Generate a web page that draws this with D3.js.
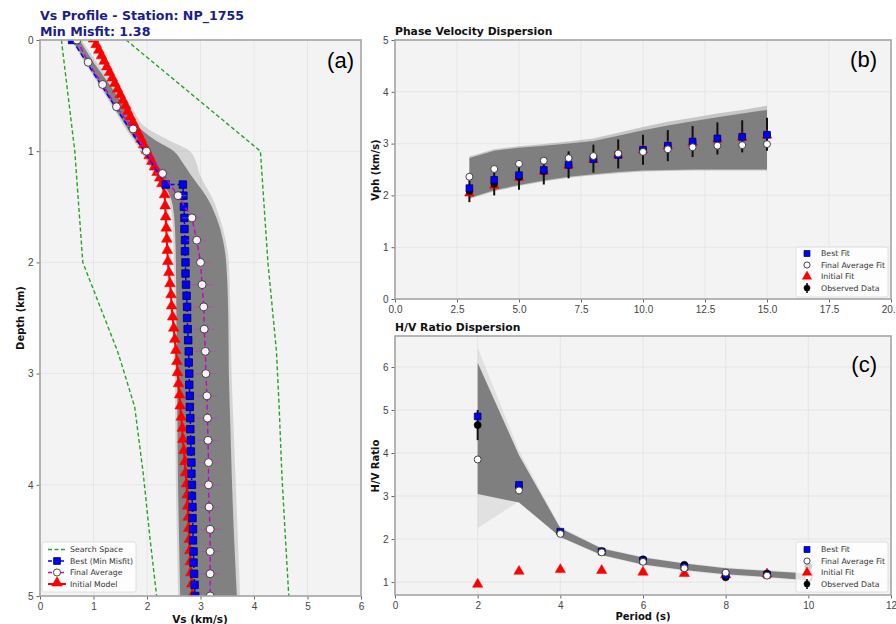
<!DOCTYPE html>
<html>
<head>
<meta charset="utf-8">
<script src="https://cdn.jsdelivr.net/npm/d3@7"></script>
<style>
body { margin: 0; background: #fff; }
svg { font-family: "DejaVu Sans", sans-serif; }
.tick text { fill: #444; font-size: 10px; }
.tick line { stroke: #666; }
</style>
</head>
<body>
<svg id="chart" width="896" height="624"></svg>
<script>
// ---- panel (a) : Vs profile ----
var searchDepth = [0, 1, 2, 2.8, 3, 3.3, 3.9, 4.5, 5];
var searchMin = [0.40, 0.65, 0.80, 1.45, 1.58, 1.77, 1.93, 2.06, 2.18];
var searchMax = [1.61, 4.12, 4.26, 4.42, 4.44, 4.47, 4.52, 4.59, 4.65];

var ensDepth = [0, 0.2, 0.4, 0.6, 0.8, 0.9, 1.0, 1.1, 1.2, 1.3, 1.4, 1.6, 1.8, 2.0, 2.5, 3.0, 3.5, 4.0, 4.5, 5.0];
var ensLow = [0.60, 0.86, 1.12, 1.38, 1.64, 1.78, 1.93, 2.04, 2.17, 2.30, 2.43, 2.51, 2.53, 2.54, 2.55, 2.56, 2.57, 2.58, 2.60, 2.62];
var ensHigh = [0.74, 1.00, 1.30, 1.58, 1.88, 2.15, 2.50, 2.66, 2.80, 2.95, 3.10, 3.30, 3.42, 3.48, 3.52, 3.53, 3.56, 3.59, 3.63, 3.68];
var ensOuterLow = [0.58, 0.83, 1.09, 1.35, 1.60, 1.74, 1.88, 2.00, 2.12, 2.26, 2.38, 2.47, 2.49, 2.50, 2.51, 2.52, 2.53, 2.54, 2.56, 2.58];
var ensOuterHigh = [0.78, 1.06, 1.38, 1.70, 2.02, 2.40, 2.80, 2.92, 2.98, 3.08, 3.20, 3.36, 3.47, 3.53, 3.56, 3.58, 3.62, 3.66, 3.70, 3.74];

var bestDepth = [0, 1.3, 1.3, 1.4, 1.5, 1.6, 1.7, 1.8, 1.9, 2.0, 2.1, 2.2, 2.3, 2.4, 2.5, 2.6, 2.7, 2.8, 2.9, 3.0,
    3.1, 3.2, 3.3, 3.4, 3.5, 3.6, 3.7, 3.8, 3.9, 4.0, 4.1, 4.2, 4.3, 4.4, 4.5, 4.6, 4.7, 4.8, 4.9, 5.0];
var bestVs = [0.60, 2.35, 2.67, 2.68, 2.69, 2.70, 2.70, 2.71, 2.71, 2.72, 2.72, 2.73, 2.74, 2.75, 2.75, 2.76, 2.77, 2.78, 2.78, 2.79,
    2.79, 2.80, 2.80, 2.81, 2.81, 2.82, 2.82, 2.83, 2.83, 2.84, 2.84, 2.85, 2.85, 2.86, 2.86, 2.87, 2.87, 2.88, 2.89, 2.90];

var avgDepth = [0, 0.2, 0.4, 0.6, 0.8, 1.0, 1.2, 1.4, 1.6, 1.8, 2.0, 2.2, 2.4, 2.6, 2.8, 3.0, 3.2, 3.4, 3.6, 3.8, 4.0, 4.2, 4.4, 4.6, 4.8, 5.0];
var avgVs = [0.69, 0.90, 1.17, 1.43, 1.74, 1.99, 2.29, 2.58, 2.84, 2.93, 3.00, 3.03, 3.06, 3.07, 3.09, 3.10, 3.12, 3.13, 3.14, 3.15, 3.15, 3.16, 3.18, 3.18, 3.18, 3.18];
var avgStd = [0.03, 0.05, 0.06, 0.08, 0.10, 0.12, 0.14, 0.16, 0.18, 0.19, 0.20, 0.20, 0.20, 0.20, 0.20, 0.20, 0.20, 0.20, 0.20, 0.20, 0.20, 0.20, 0.20, 0.20, 0.20, 0.20];

var initDepth = [0, 0.05, 0.1, 0.15, 0.2, 0.25, 0.3, 0.35, 0.4, 0.45, 0.5, 0.55, 0.6, 0.65, 0.7, 0.75, 0.8, 0.85, 0.9, 0.95,
    1.0, 1.05, 1.1, 1.15, 1.2, 1.25, 1.3, 1.4, 1.5, 1.6, 1.7, 1.8, 1.9, 2.0, 2.1, 2.2, 2.3, 2.4, 2.5, 2.6, 2.7, 2.8, 2.9, 3.0,
    3.1, 3.2, 3.3, 3.4, 3.5, 3.6, 3.7, 3.8, 3.9, 4.0, 4.1, 4.2, 4.3, 4.4, 4.5, 4.6, 4.7, 4.8, 4.9, 5.0];
var initVs = [1.00, 1.05, 1.10, 1.15, 1.20, 1.25, 1.30, 1.35, 1.40, 1.45, 1.50, 1.55, 1.60, 1.64, 1.69, 1.74, 1.79, 1.84, 1.89, 1.94,
    1.99, 2.04, 2.09, 2.14, 2.19, 2.24, 2.28, 2.33, 2.34, 2.35, 2.36, 2.37, 2.38, 2.39, 2.41, 2.43, 2.45, 2.46, 2.48, 2.50, 2.52, 2.54, 2.56, 2.57,
    2.59, 2.61, 2.62, 2.64, 2.66, 2.67, 2.69, 2.71, 2.72, 2.74, 2.75, 2.76, 2.77, 2.78, 2.79, 2.80, 2.81, 2.82, 2.84, 2.85];

// ---- panel (b) : phase velocity ----
var periodsB = [3, 4, 5, 6, 7, 8, 9, 10, 11, 12, 13, 14, 15];
var obsB = [2.08, 2.22, 2.35, 2.46, 2.59, 2.71, 2.80, 2.88, 2.96, 3.04, 3.10, 3.14, 3.18];
var obsErrB = [0.21, 0.22, 0.24, 0.25, 0.26, 0.27, 0.28, 0.29, 0.30, 0.30, 0.31, 0.31, 0.32];
var bestB = [2.14, 2.30, 2.39, 2.49, 2.59, 2.70, 2.78, 2.88, 2.96, 3.04, 3.10, 3.13, 3.17];
var avgB = [2.36, 2.51, 2.61, 2.67, 2.72, 2.76, 2.81, 2.84, 2.89, 2.93, 2.96, 2.97, 2.99];
var initB = [2.04, 2.19, 2.34, 2.46, 2.58, 2.69, 2.78, 2.87, 2.95, 3.02, 3.08, 3.12, 3.16];
var ensLowB = [1.95, 2.10, 2.20, 2.29, 2.36, 2.41, 2.45, 2.48, 2.49, 2.50, 2.50, 2.50, 2.50];
var ensHighB = [2.72, 2.86, 2.92, 2.96, 3.00, 3.05, 3.15, 3.26, 3.35, 3.43, 3.51, 3.58, 3.65];
var ensOuterLowB = [1.93, 2.08, 2.18, 2.27, 2.34, 2.39, 2.43, 2.46, 2.47, 2.48, 2.48, 2.48, 2.48];
var ensOuterHighB = [2.75, 2.89, 2.95, 2.99, 3.04, 3.10, 3.21, 3.32, 3.42, 3.50, 3.58, 3.65, 3.73];

// ---- panel (c) : H/V ratio ----
var periodsC = [2, 3, 4, 5, 6, 7, 8, 9, 10];
var obsC = [4.65, 3.22, 2.14, 1.72, 1.53, 1.40, 1.11, 1.20, 1.36];
var obsErrC = [0.35, 0.06, 0.04, 0.03, 0.03, 0.03, 0.03, 0.03, 0.03];
var bestC = [4.85, 3.26, 2.17, 1.71, 1.50, 1.35, 1.17, 1.17, 1.12];
var avgC = [3.85, 3.13, 2.12, 1.69, 1.47, 1.32, 1.22, 1.15, 1.12];
var initC = [0.95, 1.25, 1.29, 1.27, 1.23, 1.20, 1.17, 1.19, 1.22];
var ensLowC = [3.05, 2.85, 2.05, 1.63, 1.41, 1.28, 1.18, 1.12, 1.04];
var ensHighC = [6.10, 3.95, 2.25, 1.78, 1.57, 1.43, 1.32, 1.26, 1.20];
var ensOuterLowC = [2.25, 2.88, 2.03, 1.61, 1.39, 1.26, 1.16, 1.10, 1.02];
var ensOuterHighC = [6.45, 4.05, 2.28, 1.80, 1.59, 1.45, 1.34, 1.28, 1.22];

var xTicksA = [0, 1, 2, 3, 4, 5, 6];
var yTicksA = [0, 1, 2, 3, 4, 5];
var xTicksB = [0, 2.5, 5, 7.5, 10, 12.5, 15, 17.5, 20];
var yTicksB = [0, 1, 2, 3, 4, 5];
var xTicksC = [0, 2, 4, 6, 8, 10, 12];
var yTicksC = [1, 2, 3, 4, 5, 6];

var legendA = ["Search Space", "Best (Min Misfit)", "Final Average", "Initial Model"];
var legendBC = ["Best Fit", "Final Average Fit", "Initial Fit", "Observed Data"];

var svg = d3.select("#chart");

var xA = d3.scaleLinear().domain([0, 6]).range([40, 361]);
var yA = d3.scaleLinear().domain([0, 5]).range([40, 596]);
var xB = d3.scaleLinear().domain([0, 20]).range([395, 891]);
var yB = d3.scaleLinear().domain([0, 5]).range([299, 40]);
var xC = d3.scaleLinear().domain([0, 12]).range([395, 891]);
var yC = d3.scaleLinear().domain([0.7, 6.72]).range([595, 336]);

function drawBase(id, x, y, xTicks, yTicks, xFmt) {
    var x0 = x.range()[0], x1 = x.range()[1];
    var y0 = Math.min(y.range()[0], y.range()[1]), y1 = Math.max(y.range()[0], y.range()[1]);
    svg.append("clipPath").attr("id", id)
        .append("rect").attr("x", x0).attr("y", y0).attr("width", x1 - x0).attr("height", y1 - y0);
    svg.append("rect")
        .attr("x", x0).attr("y", y0).attr("width", x1 - x0).attr("height", y1 - y0)
        .style("fill", "#f3f3f3");
    var grid = svg.append("g");
    grid.selectAll(".gx").data(xTicks).enter().append("line")
        .attr("x1", function(d) { return x(d); }).attr("x2", function(d) { return x(d); })
        .attr("y1", y0).attr("y2", y1)
        .style("stroke", "#e2e2e2").style("stroke-width", 0.8);
    grid.selectAll(".gy").data(yTicks).enter().append("line")
        .attr("y1", function(d) { return y(d); }).attr("y2", function(d) { return y(d); })
        .attr("x1", x0).attr("x2", x1)
        .style("stroke", "#e2e2e2").style("stroke-width", 0.8);
    svg.append("g")
        .attr("transform", "translate(0," + y1 + ")")
        .call(d3.axisBottom(x).tickValues(xTicks).tickFormat(xFmt).tickSize(3.5).tickPadding(3))
        .call(function(g) { g.select(".domain").remove(); });
    svg.append("g")
        .attr("transform", "translate(" + x0 + ",0)")
        .call(d3.axisLeft(y).tickValues(yTicks).tickFormat(d3.format("d")).tickSize(3.5).tickPadding(3))
        .call(function(g) { g.select(".domain").remove(); });
    return svg.append("g").attr("clip-path", "url(#" + id + ")");
}

function drawBorder(x, y) {
    var x0 = x.range()[0], x1 = x.range()[1];
    var y0 = Math.min(y.range()[0], y.range()[1]), y1 = Math.max(y.range()[0], y.range()[1]);
    svg.append("rect")
        .attr("x", x0).attr("y", y0).attr("width", x1 - x0).attr("height", y1 - y0)
        .style("fill", "none").style("stroke", "#a5a5a5").style("stroke-width", 1.6);
}

function marker(g, type, size, cx, cy, fill, stroke, sw) {
    g.append("path")
        .attr("d", d3.symbol().type(type).size(size)())
        .attr("transform", "translate(" + cx + "," + cy + ")")
        .style("fill", fill).style("stroke", stroke).style("stroke-width", sw);
}

// ================= panel (a) =================
var pa = drawBase("clipA", xA, yA, xTicksA, yTicksA, d3.format("d"));

var areaA = function(lo, hi) {
    return d3.area()
        .y(function(d, i) { return yA(ensDepth[i]); })
        .x0(function(d, i) { return xA(lo[i]); })
        .x1(function(d, i) { return xA(hi[i]); })
        .curve(d3.curveMonotoneY);
};
pa.append("path").datum(ensDepth).attr("d", areaA(ensOuterLow, ensOuterHigh))
    .style("fill", "#909090").style("opacity", 0.3);
pa.append("path").datum(ensDepth).attr("d", areaA(ensLow, ensHigh))
    .style("fill", "#7c7c7c").style("opacity", 0.95);

var searchLine = function(vals) {
    return d3.line()
        .x(function(d, i) { return xA(vals[i]); })
        .y(function(d, i) { return yA(searchDepth[i]); });
};
[searchMin, searchMax].forEach(function(vals) {
    pa.append("path").datum(searchDepth).attr("d", searchLine(vals))
        .style("fill", "none").style("stroke", "#2ca02c").style("stroke-width", 1.4)
        .style("stroke-dasharray", "4,2.5");
});

// initial model
pa.append("path").datum(initDepth)
    .attr("d", d3.line().x(function(d, i) { return xA(initVs[i]); }).y(function(d) { return yA(d); }))
    .style("fill", "none").style("stroke", "#ff0000").style("stroke-width", 2);
initDepth.forEach(function(d, i) {
    marker(pa, d3.symbolTriangle, 50, xA(initVs[i]), yA(d) - 1, "#ff0000", "#ff0000", 0.5);
});

// best model
pa.append("path").datum(bestDepth)
    .attr("d", d3.line().x(function(d, i) { return xA(bestVs[i]); }).y(function(d) { return yA(d); }))
    .style("fill", "none").style("stroke", "#0000ff").style("stroke-width", 1.5).style("stroke-dasharray", "5,3");
bestDepth.forEach(function(d, i) {
    marker(pa, d3.symbolSquare, 56, xA(bestVs[i]), yA(d), "#0000ff", "#00004a", 0.8);
});

// final average with error bars
avgDepth.forEach(function(d, i) {
    pa.append("line")
        .attr("x1", xA(avgVs[i] - avgStd[i])).attr("x2", xA(avgVs[i] + avgStd[i]))
        .attr("y1", yA(d)).attr("y2", yA(d))
        .style("stroke", "#c040c0").style("stroke-width", 1).style("opacity", 0.7);
});
pa.append("path").datum(avgDepth)
    .attr("d", d3.line().x(function(d, i) { return xA(avgVs[i]); }).y(function(d) { return yA(d); }))
    .style("fill", "none").style("stroke", "#cc00cc").style("stroke-width", 1.4).style("stroke-dasharray", "5,3");
avgDepth.forEach(function(d, i) {
    marker(pa, d3.symbolCircle, 50, xA(avgVs[i]), yA(d), "#fbf2fb", "#333", 0.9);
});
drawBorder(xA, yA);

// ================= panel (b) =================
var pb = drawBase("clipB", xB, yB, xTicksB, yTicksB, d3.format(".1f"));

var areaB = function(lo, hi) {
    return d3.area()
        .x(function(d) { return xB(d); })
        .y0(function(d, i) { return yB(lo[i]); })
        .y1(function(d, i) { return yB(hi[i]); });
};
pb.append("path").datum(periodsB).attr("d", areaB(ensOuterLowB, ensOuterHighB))
    .style("fill", "#9a9a9a").style("opacity", 0.5);
pb.append("path").datum(periodsB).attr("d", areaB(ensLowB, ensHighB))
    .style("fill", "#7f7f7f");

periodsB.forEach(function(p, i) {
    pb.append("line")
        .attr("x1", xB(p)).attr("x2", xB(p))
        .attr("y1", yB(obsB[i] - obsErrB[i])).attr("y2", yB(obsB[i] + obsErrB[i]))
        .style("stroke", "#111").style("stroke-width", 2);
    marker(pb, d3.symbolTriangle, 40, xB(p), yB(initB[i]), "#ff0000", "#ff0000", 0.5);
    marker(pb, d3.symbolCircle, 36, xB(p), yB(obsB[i]), "#000", "#000", 0.5);
    marker(pb, d3.symbolSquare, 46, xB(p), yB(bestB[i]), "#0000ff", "#00004a", 0.7);
    marker(pb, d3.symbolCircle, 38, xB(p), yB(avgB[i]), "#fff", "#333", 0.9);
});
drawBorder(xB, yB);

// ================= panel (c) =================
var pc = drawBase("clipC", xC, yC, xTicksC, yTicksC, d3.format("d"));

var areaC = function(lo, hi) {
    return d3.area()
        .x(function(d) { return xC(d); })
        .y0(function(d, i) { return yC(lo[i]); })
        .y1(function(d, i) { return yC(hi[i]); });
};
pc.append("path").datum(periodsC).attr("d", areaC(ensOuterLowC, ensOuterHighC))
    .style("fill", "#b8b8b8").style("opacity", 0.3);
pc.append("path").datum(periodsC).attr("d", areaC(ensLowC, ensHighC))
    .style("fill", "#7f7f7f");

periodsC.forEach(function(p, i) {
    pc.append("line")
        .attr("x1", xC(p)).attr("x2", xC(p))
        .attr("y1", yC(obsC[i] - obsErrC[i])).attr("y2", yC(obsC[i] + obsErrC[i]))
        .style("stroke", "#111").style("stroke-width", 2);
    marker(pc, d3.symbolTriangle, 46, xC(p), yC(initC[i]), "#ff0000", "#ff0000", 0.5);
    marker(pc, d3.symbolCircle, 40, xC(p), yC(obsC[i]), "#000", "#000", 0.5);
    marker(pc, d3.symbolSquare, 46, xC(p), yC(bestC[i]), "#0000ff", "#00004a", 0.7);
    marker(pc, d3.symbolCircle, 38, xC(p), yC(avgC[i]), "#fff", "#333", 0.9);
});
drawBorder(xC, yC);

// ================= legends =================
function legendBox(x, y, w, h) {
    svg.append("rect").attr("x", x).attr("y", y).attr("width", w).attr("height", h)
        .attr("rx", 2)
        .style("fill", "#fff").style("fill-opacity", 0.8)
        .style("stroke", "#d8d8d8").style("stroke-width", 0.8);
}

function legendText(x, y, t) {
    svg.append("text").attr("x", x).attr("y", y).attr("dy", "0.35em")
        .style("font-size", "7.8px").style("fill", "#333").text(t);
}

// legend (a)
legendBox(42, 542, 94, 50);
var rowsA = [549.5, 561, 572.5, 584];
legendA.forEach(function(t, i) {
    var ry = rowsA[i];
    var ln = svg.append("line").attr("x1", 48).attr("x2", 66).attr("y1", ry).attr("y2", ry);
    if (i == 0) ln.style("stroke", "#2ca02c").style("stroke-width", 1.4).style("stroke-dasharray", "4,2.5");
    if (i == 1) { ln.style("stroke", "#0000ff").style("stroke-width", 1.5).style("stroke-dasharray", "4,2");
        marker(svg, d3.symbolSquare, 46, 57, ry, "#0000ff", "#00004a", 0.8); }
    if (i == 2) { ln.style("stroke", "#cc00cc").style("stroke-width", 1.4).style("stroke-dasharray", "4,2");
        marker(svg, d3.symbolCircle, 40, 57, ry, "#fff", "#333", 0.9); }
    if (i == 3) { ln.style("stroke", "#ff0000").style("stroke-width", 2);
        marker(svg, d3.symbolTriangle, 50, 57, ry - 1, "#ff0000", "#ff0000", 0.5); }
    legendText(70, ry, t);
});

function drawLegendBC(y0, rows) {
    legendBox(796, y0, 92, 50);
    legendBC.forEach(function(t, i) {
        var ry = rows[i];
        if (i == 0) marker(svg, d3.symbolSquare, 36, 807, ry, "#0000ff", "#00004a", 0.7);
        if (i == 1) marker(svg, d3.symbolCircle, 30, 807, ry, "#fff", "#333", 0.9);
        if (i == 2) marker(svg, d3.symbolTriangle, 38, 807, ry, "#ff0000", "#ff0000", 0.5);
        if (i == 3) {
            svg.append("line").attr("x1", 807).attr("x2", 807).attr("y1", ry - 5).attr("y2", ry + 5)
                .style("stroke", "#111").style("stroke-width", 1.6);
            marker(svg, d3.symbolCircle, 30, 807, ry, "#000", "#000", 0.5);
        }
        legendText(821, ry, t);
    });
}
drawLegendBC(247, [253.5, 265, 276.5, 288]);
drawLegendBC(542, [549.5, 561, 572.5, 584]);

// ================= titles & labels =================
svg.append("text").attr("x", 40).attr("y", 20)
    .style("font-size", "12.6px").style("font-weight", "bold").style("fill", "#1c1c8a")
    .text("Vs Profile - Station: NP_1755");
svg.append("text").attr("x", 40).attr("y", 36)
    .style("font-size", "12.6px").style("font-weight", "bold").style("fill", "#1c1c8a")
    .text("Min Misfit: 1.38");
svg.append("text").attr("x", 395).attr("y", 35)
    .style("font-size", "10.8px").style("font-weight", "bold").style("fill", "#111")
    .text("Phase Velocity Dispersion");
svg.append("text").attr("x", 395).attr("y", 331)
    .style("font-size", "10.8px").style("font-weight", "bold").style("fill", "#111")
    .text("H/V Ratio Dispersion");

svg.append("text").attr("x", 200).attr("y", 623).style("text-anchor", "middle")
    .style("font-size", "10.5px").style("font-weight", "bold").style("fill", "#111")
    .text("Vs (km/s)");
svg.append("text").attr("x", 643).attr("y", 620).style("text-anchor", "middle")
    .style("font-size", "10px").style("font-weight", "bold").style("fill", "#111")
    .text("Period (s)");

function yLabel(x, y, t) {
    svg.append("text").attr("transform", "translate(" + x + "," + y + ") rotate(-90)")
        .style("text-anchor", "middle")
        .style("font-size", "10px").style("font-weight", "bold").style("fill", "#111")
        .text(t);
}
yLabel(24, 318, "Depth (km)");
yLabel(379, 170, "Vph (km/s)");
yLabel(379, 466, "H/V Ratio");

var letters = [["(a)", 354, 68], ["(b)", 877, 67], ["(c)", 877, 372]];
letters.forEach(function(l) {
    svg.append("text").attr("x", l[1]).attr("y", l[2]).style("text-anchor", "end")
        .style("font-family", "Liberation Sans, Arial, sans-serif")
        .style("font-size", "22px").style("fill", "#000").text(l[0]);
});
</script>
</body>
</html>
